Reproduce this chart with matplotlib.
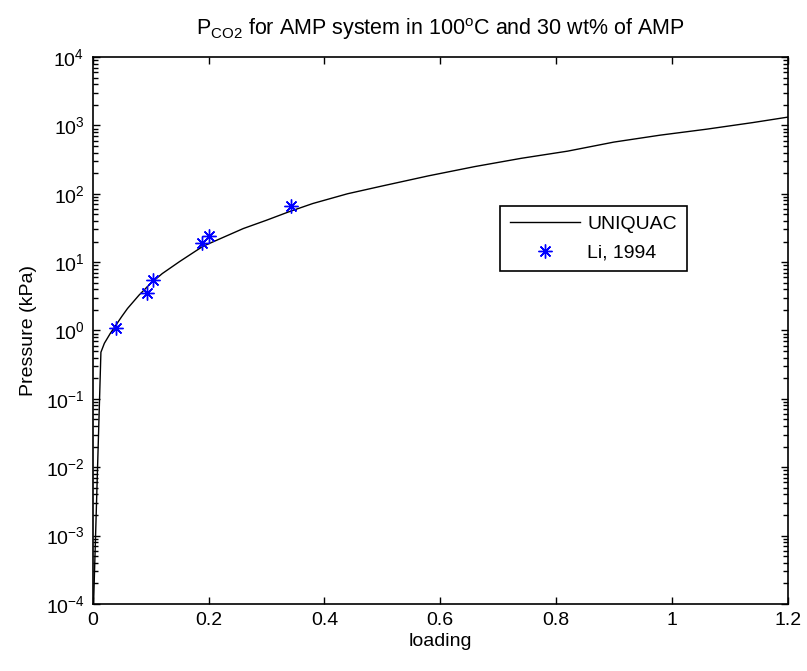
import numpy as np
import matplotlib
matplotlib.use("Agg")
from matplotlib import pyplot as plt
from matplotlib.ticker import LogLocator, NullFormatter

plt.rcParams['font.family'] = ['Liberation Sans', 'DejaVu Sans']
plt.rcParams['mathtext.fontset'] = 'custom'
plt.rcParams['mathtext.rm'] = 'Liberation Sans'
plt.rcParams['mathtext.it'] = 'Liberation Sans'
plt.rcParams['mathtext.default'] = 'regular'

# UNIQUAC model curve
loading = [0.001, 0.014, 0.02, 0.03, 0.04, 0.05, 0.06, 0.08, 0.10, 0.12, 0.15, 0.19,
           0.22, 0.26, 0.30, 0.34, 0.38, 0.44, 0.50, 0.58, 0.66, 0.74, 0.82, 0.90,
           0.98, 1.06, 1.14, 1.20]
pressure = [8e-5, 0.48, 0.65, 0.9, 1.2, 1.6, 2.1, 3.3, 4.9, 6.8, 10.2, 17,
            22, 31, 41, 55, 72, 100, 130, 183, 250, 330, 420, 570,
            720, 880, 1100, 1320]

# Li, 1994 experimental points
li_loading = [0.040, 0.093, 0.104, 0.188, 0.200, 0.342]
li_pressure = [1.07, 3.5, 5.5, 19.3, 24.4, 67]

xticks = [0, 0.2, 0.4, 0.6, 0.8, 1.0, 1.2]
xticklabels = ["0", "0.2", "0.4", "0.6", "0.8", "1", "1.2"]
yticks = [1e-4, 1e-3, 1e-2, 1e-1, 1e0, 1e1, 1e2, 1e3, 1e4]

fig = plt.figure(figsize=(8.07, 6.71), dpi=100)
ax = fig.add_axes([0.115, 0.1, 0.861, 0.815])

ax.plot(loading, pressure, color='black', lw=1.0, label='UNIQUAC')
ax.plot(li_loading, li_pressure, ls='none', marker=(8, 2, 0), ms=10, mew=1.0,
        color='blue', label='Li, 1994')

ax.set_yscale('log')
ax.set_xlim(0, 1.2)
ax.set_xticks(xticks)
ax.set_xticklabels(xticklabels)
ax.set_yticks(yticks)
ax.yaxis.set_minor_locator(LogLocator(base=10, subs=np.arange(2, 10), numticks=20))
ax.yaxis.set_minor_formatter(NullFormatter())
ax.set_ylim(1e-4, 1e4)

ax.tick_params(which='both', direction='in', top=True, right=True, labelsize=14, width=1.0)
ax.tick_params(which='major', length=5, pad=6)
ax.tick_params(which='minor', length=3.5)
for s in ax.spines.values():
    s.set_linewidth(1.2)

ax.set_title(r'P$_{\mathrm{CO2}}$ for AMP system in 100$^{\mathrm{o}}$C and 30 wt% of AMP',
             fontsize=15.5, pad=16)
ax.set_xlabel('loading', fontsize=14, labelpad=3)
ax.set_ylabel('Pressure (kPa)', fontsize=14, labelpad=6)

leg = ax.legend(loc='upper left', bbox_to_anchor=(0.586, 0.728), fontsize=14,
                fancybox=False, framealpha=1, edgecolor='black', borderpad=0.5,
                handlelength=3.6, handletextpad=0.4, labelspacing=0.55,
                borderaxespad=0)
leg.get_frame().set_linewidth(1.2)

fig.savefig('out.png', dpi=100)
